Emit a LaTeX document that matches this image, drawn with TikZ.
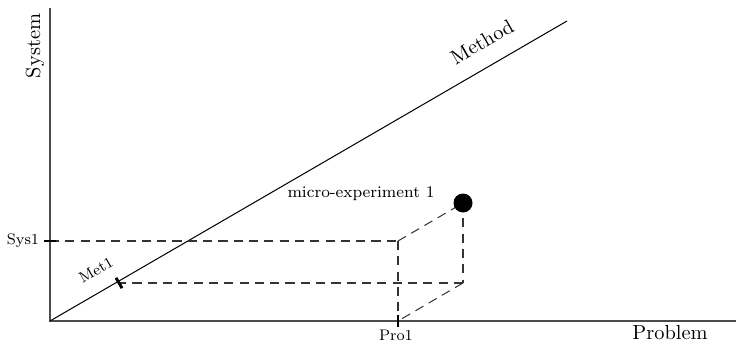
\documentclass[tikz,border=0pt]{standalone}
\usetikzlibrary{calc}
\begin{document}
\begin{tikzpicture}[x=0.49pt,y=-0.49pt,
  axis/.style={draw=black!70,line width=0.6pt},
  dsh/.style={draw=black!80,dashed,dash pattern=on 4.5pt off 3pt,line width=0.5pt},
  tick/.style={line width=1.4pt},
  lbl/.style={inner sep=1pt},
  small lbl/.style={inner sep=1pt,font=\fontsize{7.5pt}{9pt}\selectfont}]
\useasboundingbox (0,0) rectangle (738,344);
\coordinate (O) at (50,321);
\coordinate (Ytop) at (50,8);
\coordinate (Xend) at (736,321);
\coordinate (Mend) at (567,21);
\coordinate (S1) at (50,241);
\coordinate (P1) at (398,321);
\coordinate (M1) at (119,283);
\coordinate (B) at (398,241);
\coordinate (F) at (463,283);
\coordinate (D) at (463,203);
\draw[axis] (Ytop) -- (O) -- (Xend);
\draw[line width=0.5pt] (O) -- (Mend);
\draw[dsh] (S1) -- (B);
\draw[dsh] (B) -- (P1);
\draw[dsh] (B) -- (D);
\draw[dsh] (D) -- (F);
\draw[dsh] (F) -- (M1);
\draw[dsh] (F) -- (P1);
\fill (D) circle (9.5);
\draw[tick] (44,241) -- (56,241);
\draw[tick] (398,315) -- (398,327);
\draw[tick] ($(M1)+(-3,-5.2)$) -- ($(M1)+(3,5.2)$);
\node[lbl,rotate=90] (sys) at (35,46) {System};
\node[lbl] (prob) at (670,333) {Problem};
\node[lbl,rotate=30] (meth) at (482,42) {Method};
\node[lbl] (micro) at (361,194) {\footnotesize micro-experiment 1};
\node[small lbl] (s1) at (23,241) {Sys1};
\node[small lbl] (p1) at (396,335) {Pro1};
\node[small lbl,rotate=30] (m1) at (96,270) {Met1};
\end{tikzpicture}
\end{document}
